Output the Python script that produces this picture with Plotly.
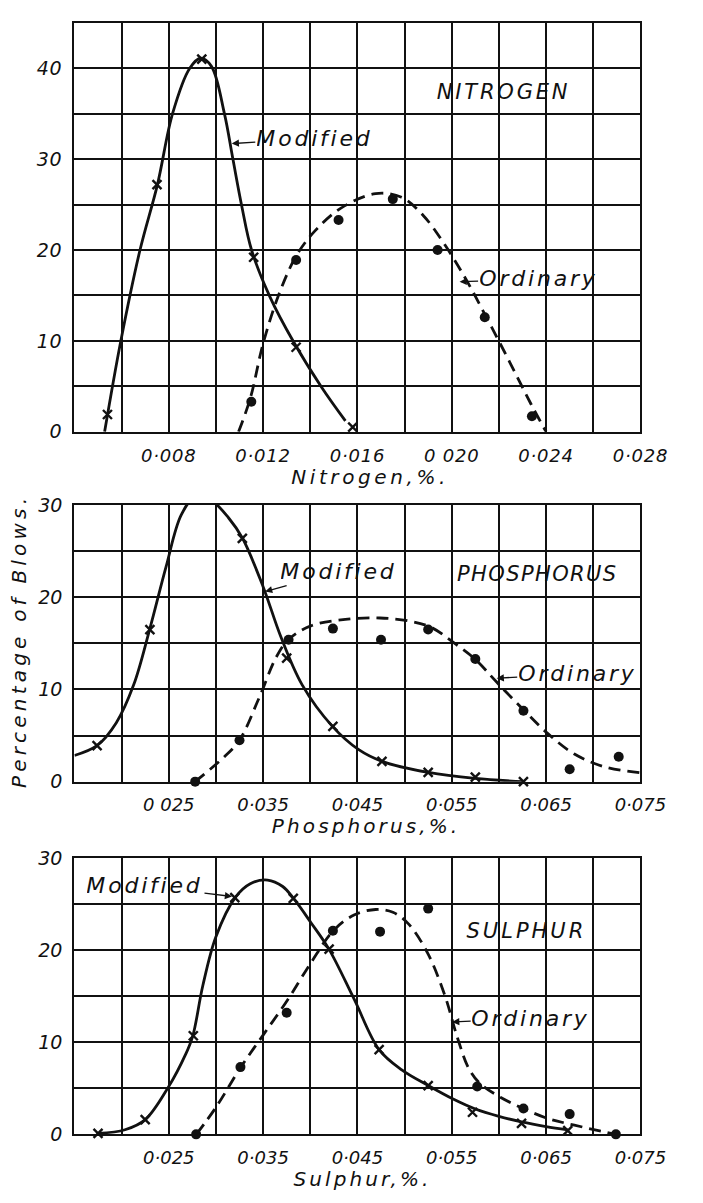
import plotly.graph_objects as go

# ---------------- data ----------------
# Nitrogen panel
n_mod_x = [0.0054, 0.0075, 0.0094, 0.0116, 0.0134, 0.0158]
n_mod_y = [1.9, 27.2, 41.0, 19.2, 9.3, 0.5]
n_ord_x = [0.0115, 0.0134, 0.0152, 0.0175, 0.0194, 0.0214, 0.0234]
n_ord_y = [3.3, 18.9, 23.3, 25.6, 20.0, 12.6, 1.7]
n_mod_curve_x = [0.00528, 0.00596, 0.00678, 0.00752, 0.00816, 0.00889, 0.00935, 0.00981,
                 0.01036, 0.01072, 0.01109, 0.01151, 0.01228, 0.01329, 0.01448, 0.01549]
n_mod_curve_y = [0, 9.9, 20.0, 27.2, 35.0, 40.0, 41.1, 40.2, 35.0, 30.0, 24.9, 20.0, 14.9, 9.9, 4.9, 1.2]
n_ord_curve_x = [0.01096, 0.01146, 0.01201, 0.01274, 0.01344, 0.0142, 0.0153, 0.01677,
                 0.01787, 0.01879, 0.0197, 0.02062, 0.02153, 0.02245, 0.02337, 0.024]
n_ord_curve_y = [0, 3.7, 9.8, 15.6, 19.5, 22.1, 24.6, 26.2, 25.8, 23.8, 20.6, 16.7, 12.3, 7.7, 3.0, 0]

# Phosphorus panel
p_mod_x = [0.0174, 0.0230, 0.0278, 0.0328, 0.0375, 0.0424, 0.0476, 0.0525, 0.0575, 0.0626]
p_mod_y = [3.9, 16.5, 30.8, 26.4, 13.4, 6.0, 2.2, 1.0, 0.5, 0]
p_ord_x = [0.0278, 0.0325, 0.0377, 0.0424, 0.0475, 0.0525, 0.0575, 0.0626, 0.0675, 0.0727]
p_ord_y = [0, 4.5, 15.4, 16.6, 15.4, 16.5, 13.3, 7.7, 1.35, 2.7]
p_mod_curve_x = [0.015, 0.01738, 0.01944, 0.02128, 0.02297, 0.02471, 0.02631, 0.02778, 0.02952,
                 0.03135, 0.03282, 0.03502, 0.03685, 0.03914, 0.04235, 0.0451, 0.04762, 0.05252,
                 0.05746, 0.0626]
p_mod_curve_y = [2.84, 3.9, 6.4, 10.5, 16.5, 23.3, 28.9, 30.9, 30.5, 28.6, 26.4, 21.1, 15.8, 10.5,
                 6.0, 3.5, 2.2, 1.0, 0.35, 0]
p_ord_curve_x = [0.02778, 0.0309, 0.0325, 0.03456, 0.03639, 0.03768, 0.04006, 0.04372, 0.04739,
                 0.05059, 0.05288, 0.05517, 0.05746, 0.05976, 0.0626, 0.06525, 0.068, 0.07121, 0.075]
p_ord_curve_y = [0, 2.7, 4.5, 9.05, 13.5, 15.4, 16.9, 17.6, 17.75, 17.4, 16.7, 15.1, 13.3, 10.8,
                 7.8, 5.15, 3.0, 1.6, 0.96]

# Sulphur panel
s_mod_x = [0.0175, 0.0225, 0.0276, 0.0320, 0.0382, 0.0420, 0.0473, 0.0525, 0.0572, 0.0624, 0.0673]
s_mod_y = [0.1, 1.6, 10.7, 25.7, 25.6, 20.1, 9.2, 5.3, 2.4, 1.2, 0.4]
s_ord_x = [0.0279, 0.0326, 0.0375, 0.0424, 0.0474, 0.0525, 0.0577, 0.0626, 0.0675, 0.0724]
s_ord_y = [0, 7.3, 13.2, 22.1, 22.0, 24.5, 5.2, 2.8, 2.2, 0]
s_mod_curve_x = [0.01752, 0.02036, 0.02251, 0.02494, 0.02677, 0.02755, 0.0286, 0.02998, 0.03204,
                 0.03364, 0.03548, 0.03708, 0.03823, 0.04006, 0.04198, 0.04464, 0.04729, 0.0497,
                 0.0525, 0.0552, 0.0575, 0.0600, 0.0624, 0.0650, 0.0673]
s_mod_curve_y = [0.1, 0.5, 1.6, 5.1, 8.65, 10.7, 16.1, 21.4, 25.7, 27.2, 27.6, 26.9, 25.6, 23.0,
                 20.1, 14.7, 9.2, 7.0, 5.3, 3.8, 2.75, 1.95, 1.35, 0.85, 0.5]
s_ord_curve_x = [0.02792, 0.02998, 0.03264, 0.03502, 0.03754, 0.04006, 0.04244, 0.04464, 0.04693,
                 0.04876, 0.05036, 0.05243, 0.05426, 0.05563, 0.05678, 0.05792, 0.0602, 0.0626,
                 0.06525, 0.068, 0.07235]
s_ord_curve_y = [0, 2.9, 7.3, 10.8, 14.5, 18.6, 22.1, 23.8, 24.4, 24.1, 22.9, 19.7, 15.1, 10.4,
                 7.2, 5.6, 4.0, 2.8, 1.7, 1.0, 0]

# axis ticks
n_grid = [0.004 + 0.002 * i for i in range(13)]
n_ticktext = ["", "", "0·008", "", "0·012", "", "0·016", "", "0 020", "", "0·024", "", "0·028"]
p_grid = [0.015 + 0.005 * i for i in range(13)]
p_ticktext = ["", "", "0 025", "", "0·035", "", "0·045", "", "0·055", "", "0·065", "", "0·075"]
s_ticktext = ["", "", "0·025", "", "0·035", "", "0·045", "", "0·055", "", "0·065", "", "0·075"]
y45_vals = [5 * i for i in range(10)]
y45_text = ["0", "", "10", "", "20", "", "30", "", "40", ""]
y30_vals = [5 * i for i in range(7)]
y30_text = ["0", "", "10", "", "20", "", "30"]

FONT = "DejaVu Sans"
BLACK = "#111111"

fig = go.Figure()

def add_panel(ax, mcx, mcy, ocx, ocy, mx, my, ox, oy):
    xa = "x" if ax == 1 else f"x{ax}"
    ya = "y" if ax == 1 else f"y{ax}"
    fig.add_trace(go.Scatter(x=mcx, y=mcy, mode="lines",
                             line=dict(color=BLACK, width=2.8, shape="spline", smoothing=1.0),
                             xaxis=xa, yaxis=ya, showlegend=False, hoverinfo="skip", cliponaxis=False))
    fig.add_trace(go.Scatter(x=ocx, y=ocy, mode="lines",
                             line=dict(color=BLACK, width=2.8, shape="spline", smoothing=1.0, dash="12px,7px"),
                             xaxis=xa, yaxis=ya, showlegend=False, hoverinfo="skip", cliponaxis=False))
    fig.add_trace(go.Scatter(x=mx, y=my, mode="markers",
                             marker=dict(symbol="x-thin", size=9, line=dict(color=BLACK, width=2.4)),
                             xaxis=xa, yaxis=ya, showlegend=False, cliponaxis=False, name="Modified"))
    fig.add_trace(go.Scatter(x=ox, y=oy, mode="markers", marker=dict(symbol="circle", size=10, color=BLACK),
                             xaxis=xa, yaxis=ya, showlegend=False, cliponaxis=False, name="Ordinary"))

add_panel(1, n_mod_curve_x, n_mod_curve_y, n_ord_curve_x, n_ord_curve_y, n_mod_x, n_mod_y, n_ord_x, n_ord_y)
add_panel(2, p_mod_curve_x, p_mod_curve_y, p_ord_curve_x, p_ord_curve_y, p_mod_x, p_mod_y, p_ord_x, p_ord_y)
add_panel(3, s_mod_curve_x, s_mod_curve_y, s_ord_curve_x, s_ord_curve_y, s_mod_x, s_mod_y, s_ord_x, s_ord_y)

W, H = 703, 1203
xdom = [77.3 / W, 665.0 / W]
def ydom(top, bottom):
    return [1 - bottom / H, 1 - top / H]

tickfont = dict(family=FONT, size=18, color=BLACK, style="italic")
common_x = dict(showgrid=True, gridcolor=BLACK, gridwidth=1.5, showline=True, linecolor=BLACK, linewidth=2.4,
                mirror=True, zeroline=False, ticks="outside", ticklen=6, tickcolor="rgba(0,0,0,0)",
                tickfont=tickfont, tickmode="array", domain=xdom, fixedrange=True)
common_y = dict(showgrid=True, gridcolor=BLACK, gridwidth=1.5, showline=True, linecolor=BLACK, linewidth=2.4,
                mirror=True, zeroline=False, ticks="outside", ticklen=6, tickcolor="rgba(0,0,0,0)",
                tickfont=dict(tickfont, size=19), tickmode="array", fixedrange=True)

fig.update_layout(
    width=W, height=H, autosize=False, margin=dict(l=0, r=0, t=0, b=0),
    paper_bgcolor="white", plot_bgcolor="white", showlegend=False,
    xaxis=dict(common_x, range=[0.004, 0.028], tickvals=n_grid, ticktext=n_ticktext, anchor="y"),
    yaxis=dict(common_y, range=[0, 45], tickvals=y45_vals, ticktext=y45_text, domain=ydom(12, 428.6), anchor="x"),
    xaxis2=dict(common_x, range=[0.015, 0.075], tickvals=p_grid, ticktext=p_ticktext, anchor="y2"),
    yaxis2=dict(common_y, range=[0, 30], tickvals=y30_vals, ticktext=y30_text, domain=ydom(503.3, 785), anchor="x2"),
    xaxis3=dict(common_x, range=[0.015, 0.075], tickvals=p_grid, ticktext=s_ticktext, anchor="y3"),
    yaxis3=dict(common_y, range=[0, 30], tickvals=y30_vals, ticktext=y30_text, domain=ydom(862.7, 1144.3), anchor="x3"),
)

lab_font = dict(family=FONT, size=22, color=BLACK, style="italic")
cap_font = dict(family=FONT, size=21, color=BLACK, style="italic")
title_font = dict(family=FONT, size=20, color=BLACK, style="italic")
ann = []
# element names
ctr = dict(showarrow=False, xanchor="center", yanchor="middle")
ann.append(dict(ctr, x=0.02218, y=37.4, xref="x", yref="y", text="NITROGEN", font=cap_font))
ann.append(dict(ctr, x=0.0641, y=22.5, xref="x2", yref="y2", text="PHOSPHORUS", font=cap_font))
ann.append(dict(ctr, x=0.06296, y=22.1, xref="x3", yref="y3", text="SULPHUR", font=cap_font))
# arrow labels
arrow = dict(showarrow=True, arrowhead=2, arrowsize=1.1, arrowwidth=1.3, arrowcolor=BLACK, font=lab_font,
             standoff=1)
ann.append(dict(arrow, x=0.01063, y=31.7, xref="x", yref="y", text="Modified", ax=84, ay=-5, width=116))
ann.append(dict(arrow, x=0.02029, y=16.5, xref="x", yref="y", text="Ordinary", ax=80, ay=-3, width=118))
ann.append(dict(arrow, x=0.03511, y=20.6, xref="x2", yref="y2", text="Modified", ax=75, ay=-20, width=116))
ann.append(dict(arrow, x=0.05966, y=11.2, xref="x2", yref="y2", text="Ordinary", ax=82, ay=-5, width=118))
ann.append(dict(arrow, x=0.03181, y=25.8, xref="x3", yref="y3", text="Modified", ax=-88, ay=-11, width=116))
ann.append(dict(arrow, x=0.05494, y=12.2, xref="x3", yref="y3", text="Ordinary", ax=80, ay=-3, width=118))
# axis titles (explicitly centred on their positions)
ann.append(dict(ctr, x=384.6 / W, y=1 - 475 / H, xref="paper", yref="paper", text="Nitrogen,%.", font=title_font))
ann.append(dict(ctr, x=380 / W, y=1 - 830 / H, xref="paper", yref="paper", text="Phosphorus,%.", font=title_font))
ann.append(dict(ctr, x=376.6 / W, y=1 - 1190 / H, xref="paper", yref="paper", text="Sulphur,%.", font=title_font))
ann.append(dict(ctr, x=19 / W, y=1 - 641.5 / H, xref="paper", yref="paper", text="Percentage of Blows.",
                textangle=-90, font=title_font))
fig.update_layout(annotations=ann)

# hand-lettered look: widen the letter spacing of the texts (pure styling, text stays text)
post_js = """
var gd = document.getElementById('{plot_id}');
var sp = {"NITROGEN": 2.8, "PHOSPHORUS": 1.4, "SULPHUR": 3.0, "Modified": 2.8, "Ordinary": 2.8,
          "Nitrogen,%.": 3.6, "Phosphorus,%.": 3.1, "Sulphur,%.": 3.1, "Percentage of Blows.": 4.2};
function applySp() {
  gd.querySelectorAll('text.annotation-text').forEach(function (t) {
    var k = t.textContent;
    if (sp.hasOwnProperty(k)) { t.style.letterSpacing = sp[k] + 'px'; }
  });
  gd.querySelectorAll('g.xtick text, g.ytick text').forEach(function (t) { t.style.letterSpacing = '0.8px'; });
}
applySp();
gd.on('plotly_afterplot', applySp);
"""

fig.write_html("out.html", config={"displayModeBar": False}, post_script=post_js)
